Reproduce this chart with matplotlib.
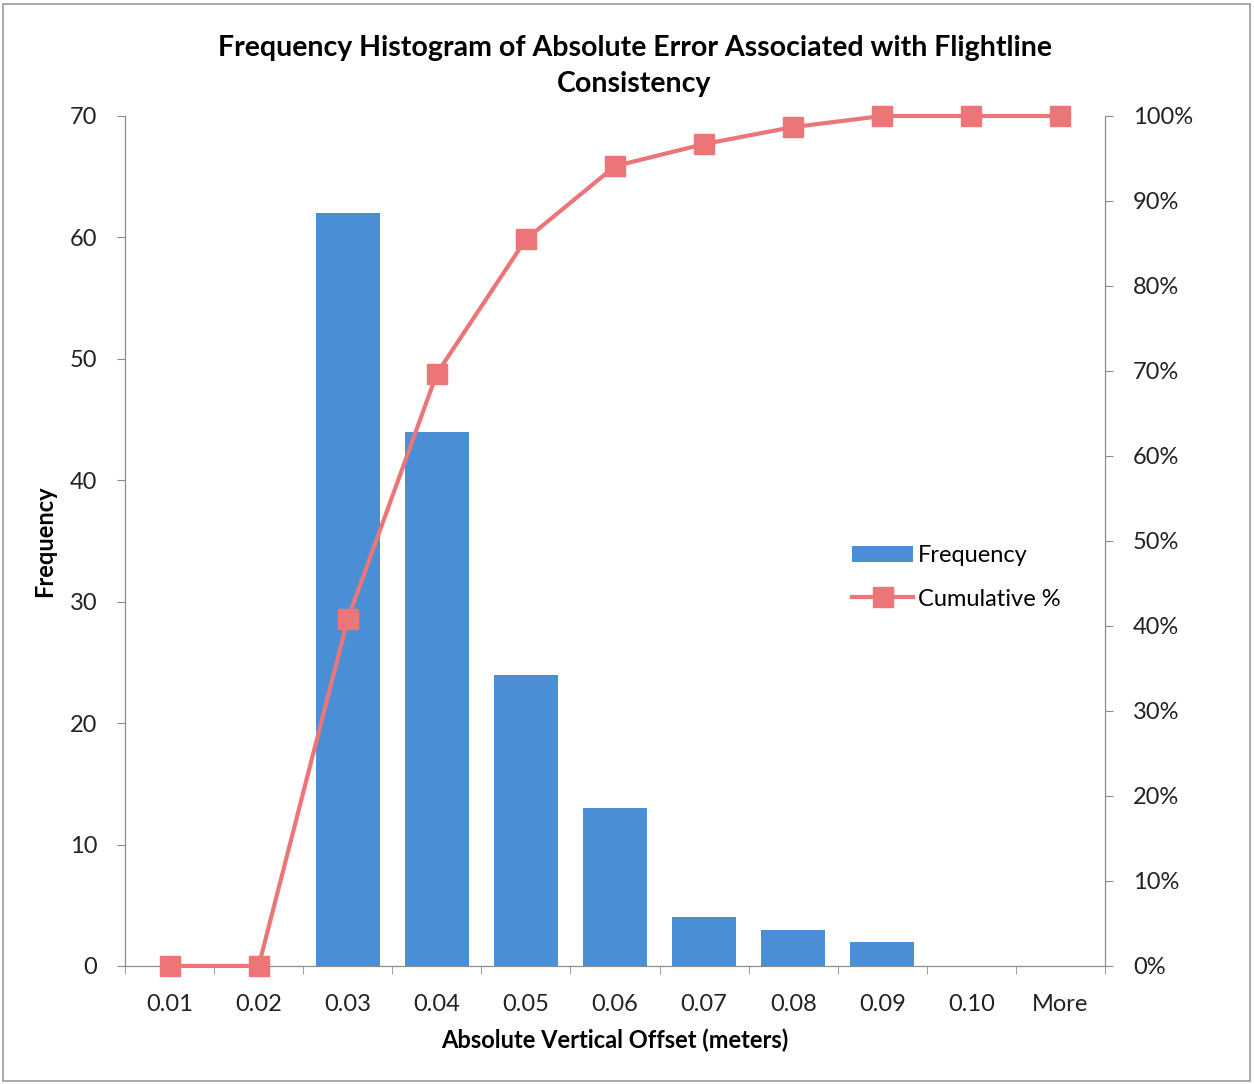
import matplotlib.pyplot as plt
from matplotlib.patches import Rectangle
from matplotlib.ticker import PercentFormatter

plt.rcParams['font.family'] = ['Lato', 'DejaVu Sans']

categorias = ['0.01', '0.02', '0.03', '0.04', '0.05', '0.06', '0.07', '0.08', '0.09', '0.10', 'More']
frecuencia = [0, 0, 62, 44, 24, 13, 4, 3, 2, 0, 0]
acumulado = [0.0, 0.0, 0.408, 0.697, 0.855, 0.941, 0.967, 0.987, 1.0, 1.0, 1.0]

azul = '#4A8FD6'
rojo = '#EC7577'
gris = '#8C8C8C'
tam = 17

fig = plt.figure(figsize=(12.54, 10.84), dpi=100)
ax = fig.add_axes([0.0997, 0.1089, 0.7815, 0.7841])
x = list(range(len(categorias)))

barras = ax.bar(x, frecuencia, width=0.72, color=azul, label='Frequency', zorder=2)
ax.set_xlim(-0.5, len(categorias) - 0.5)
ax.set_ylim(0, 70)
ax.set_yticks(range(0, 71, 10))
ax.set_xticks(x)
ax.set_xticklabels(categorias)
ax.set_xticks([i - 0.5 for i in range(len(categorias) + 1)], minor=True)
ax.tick_params(axis='x', which='major', length=0, pad=20, labelsize=tam, colors='#222222')
ax.tick_params(axis='x', which='minor', length=6, color=gris, direction='out')
ax.tick_params(axis='y', length=6, color=gris, labelsize=tam, pad=14, labelcolor='#222222')
ax.spines['top'].set_visible(False)
for s in ['left', 'bottom', 'right']:
    ax.spines[s].set_color(gris)

ax2 = ax.twinx()
linea, = ax2.plot(x, acumulado, color=rojo, lw=3, marker='s', markersize=15,
                  label='Cumulative %', zorder=3, clip_on=False)
ax2.set_ylim(0, 1)
ax2.set_yticks([i / 10 for i in range(11)])
ax2.yaxis.set_major_formatter(PercentFormatter(1.0, decimals=0))
ax2.tick_params(axis='y', length=6, color=gris, labelsize=tam, pad=14, labelcolor='#222222')
ax2.spines['top'].set_visible(False)
for s in ['left', 'bottom', 'right']:
    ax2.spines[s].set_color(gris)

ax.set_ylabel('Frequency', fontsize=tam, fontweight='bold', labelpad=10)
ax.set_xlabel('Absolute Vertical Offset (meters)', fontsize=tam, fontweight='bold', labelpad=10)
fig.text(0.506, 0.939, 'Frequency Histogram of Absolute Error Associated with Flightline\nConsistency',
         ha='center', va='center', fontsize=20.5, fontweight='bold', linespacing=1.45)

ax2.legend([barras, linea], ['Frequency', 'Cumulative %'], loc='upper left',
           bbox_to_anchor=(0.72, 0.52), frameon=False, fontsize=tam,
           handlelength=2.6, labelspacing=0.95, handletextpad=0.2)

fig.patches.append(Rectangle((0.002, 0.003), 0.995, 0.993, transform=fig.transFigure,
                             fill=False, edgecolor='#9A9A9A', lw=1.2))

fig.savefig('out.png', dpi=100)
